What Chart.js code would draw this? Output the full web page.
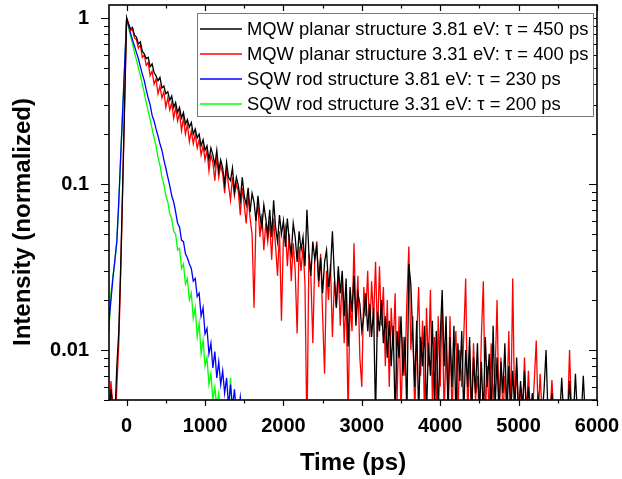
<!DOCTYPE html>
<html>
<head>
<meta charset="utf-8">
<script src="https://cdn.jsdelivr.net/npm/chart.js@4.4.1/dist/chart.umd.min.js"></script>
<style>
  body { margin: 0; background: #fff; }
  #wrap { width: 622px; height: 479px; }
</style>
</head>
<body>
<div id="wrap"><canvas id="myChart"></canvas></div>
<script>
  "use strict";

  // sampling grid of the traces: t = T0 + i * DT (ps)
  const T0 = -225;
  const DT = 25;

  const seriesLabels = [
    "MQW planar structure 3.81 eV: \u03c4 = 450 ps",
    "MQW planar structure 3.31 eV: \u03c4 = 400 ps",
    "SQW rod structure 3.81 eV: \u03c4 = 230 ps",
    "SQW rod structure 3.31 eV: \u03c4 = 200 ps",
  ];
  const seriesColors = ["#000000", "#ff0000", "#0000ff", "#00ff00"];

  // MQW planar 3.81 eV
  const mqw381 = [
    0.004, 0.0058, 0.0045, 0.004, 0.008, 0.013, 0.033, 0.10, 0.32, 1.0, // -225..0
    0.92, 0.86, 0.88, 0.79, 0.77, 0.70, 0.72, 0.63, // 25-200
    0.61, 0.57, 0.58, 0.51, 0.53, 0.47, 0.45, 0.42,
    0.44, 0.38, 0.39, 0.35, 0.36, 0.32, 0.34, 0.29,
    0.31, 0.27, 0.29, 0.25, 0.27, 0.23, 0.245, 0.22,
    0.235, 0.20, 0.215, 0.19, 0.20, 0.17, 0.185, 0.16, // 825-1000
    0.17, 0.14, 0.165, 0.15, 0.13, 0.16, 0.12, 0.14,
    0.125, 0.10, 0.135, 0.11, 0.105, 0.125, 0.09, 0.11,
    0.098, 0.08, 0.11, 0.085, 0.075, 0.095, 0.068, 0.088,
    0.078, 0.06, 0.085, 0.065, 0.055, 0.075, 0.062, 0.05,
    0.07, 0.048, 0.08, 0.055, 0.045, 0.065, 0.05, 0.06, // 1825-2000
    0.042, 0.062, 0.045, 0.038, 0.058, 0.048, 0.034, 0.052,
    0.04, 0.048, 0.032, 0.07, 0.038, 0.028, 0.045, 0.035,
    0.042, 0.026, 0.036, 0.022, 0.034, 0.04, 0.024, 0.03,
    0.052, 0.028, 0.018, 0.032, 0.022, 0.03, 0.016, 0.027,
    0.0105, 0.024, 0.017, 0.028, 0.014, 0.022, 0.019, 0.013, // 2825-3000
    0.016, 0.022, 0.013, 0.019, 0.012, 0.018, 0.004, 0.017,
    0.013, 0.02, 0.011, 0.016, 0.009, 0.015, 0.008, 0.014,
    0.004, 0.013, 0.009, 0.016, 0.007, 0.012, 0.004, 0.033,
    0.025, 0.012, 0.006, 0.015, 0.004, 0.012, 0.008, 0.014,
    0.004, 0.011, 0.007, 0.015, 0.005, 0.013, 0.004, 0.012, // 3825-4000
    0.023, 0.008, 0.016, 0.004, 0.012, 0.006, 0.014, 0.004,
    0.011, 0.0065, 0.013, 0.004, 0.010, 0.006, 0.012, 0.004,
    0.009, 0.0055, 0.011, 0.004, 0.0085, 0.004, 0.012, 0.006,
    0.0095, 0.004, 0.014, 0.0045, 0.009, 0.004, 0.0085, 0.0055,
    0.011, 0.004, 0.008, 0.004, 0.0075, 0.0045, 0.009, 0.004, // 4825-5000
    0.0065, 0.0045, 0.0075, 0.004, 0.006, 0.004, 0.0055, 0.004,
    0.004, 0.0052, 0.004, 0.004, 0.0058, 0.01, 0.004, 0.004,
    0.0055, 0.004, 0.004, 0.004, 0.004, 0.0068, 0.004, 0.004,
    0.004, 0.0065, 0.004, 0.004, 0.0072, 0.004, 0.004, 0.004,
    0.007, 0.004,
  ];

  // MQW planar 3.31 eV
  const mqw331 = [
    0.004, 0.0065, 0.0045, 0.003, 0.006, 0.011, 0.03, 0.095, 0.31, 1.0,
    0.93, 0.84, 0.86, 0.76, 0.74, 0.66, 0.69, 0.58,
    0.60, 0.52, 0.54, 0.45, 0.48, 0.40, 0.43, 0.35,
    0.39, 0.33, 0.36, 0.29, 0.33, 0.28, 0.31, 0.25,
    0.29, 0.24, 0.27, 0.21, 0.25, 0.20, 0.23, 0.18,
    0.21, 0.175, 0.20, 0.165, 0.185, 0.15, 0.17, 0.14, // 825-1000
    0.16, 0.12, 0.15, 0.135, 0.105, 0.145, 0.11, 0.13,
    0.115, 0.088, 0.125, 0.098, 0.08, 0.11, 0.085, 0.1,
    0.09, 0.065, 0.095, 0.075, 0.058, 0.085, 0.062, 0.05,
    0.018, 0.062, 0.075, 0.048, 0.066, 0.04, 0.058, 0.045,
    0.06, 0.035, 0.062, 0.042, 0.028, 0.052, 0.015, 0.048, // 1825-2000
    0.055, 0.032, 0.05, 0.026, 0.044, 0.03, 0.0126, 0.042,
    0.03, 0.042, 0.025, 0.003, 0.038, 0.028, 0.011, 0.035,
    0.045, 0.024, 0.038, 0.016, 0.0072, 0.03, 0.02, 0.033,
    0.012, 0.026, 0.018, 0.03, 0.014, 0.028, 0.011, 0.022,
    0.004, 0.02, 0.013, 0.044, 0.015, 0.028, 0.009, 0.006, // 2825-3000
    0.024, 0.016, 0.03, 0.012, 0.026, 0.015, 0.034, 0.012,
    0.032, 0.014, 0.024, 0.008, 0.02, 0.006, 0.018, 0.01,
    0.022, 0.005, 0.016, 0.004, 0.012, 0.007, 0.02, 0.042,
    0.01, 0.016, 0.004, 0.012, 0.024, 0.007, 0.015, 0.004,
    0.018, 0.008, 0.023, 0.005, 0.012, 0.004, 0.016, 0.006, // 3825-4000
    0.02, 0.004, 0.011, 0.005, 0.016, 0.004, 0.009, 0.013,
    0.004, 0.01, 0.006, 0.012, 0.027, 0.004, 0.009, 0.004,
    0.011, 0.005, 0.007, 0.004, 0.012, 0.026, 0.004, 0.008,
    0.004, 0.011, 0.005, 0.007, 0.02, 0.004, 0.009, 0.004,
    0.007, 0.0045, 0.013, 0.004, 0.027, 0.004, 0.008, 0.004, // 4825-5000
    0.006, 0.004, 0.009, 0.004, 0.0075, 0.004, 0.004, 0.0065,
    0.0114, 0.004, 0.0072, 0.004, 0.004, 0.004, 0.004, 0.004,
    0.0066, 0.004, 0.004, 0.004, 0.004, 0.004, 0.004, 0.004,
    0.004, 0.010, 0.004,
  ];

  // SQW rod 3.81 eV
  const sqw381 = [
    0.015, 0.02, 0.027, 0.035, 0.045, 0.08, 0.15, 0.28, 0.53, 1.0,
    0.90, 0.81, 0.74, 0.68, 0.62, 0.57, 0.51, 0.46,
    0.42, 0.37, 0.33, 0.30, 0.26, 0.24, 0.215, 0.195,
    0.175, 0.16, 0.14, 0.125, 0.11, 0.098, 0.085, 0.078,
    0.068, 0.058, 0.055, 0.046, 0.045, 0.038, 0.036, 0.033,
    0.031, 0.026, 0.027, 0.021, 0.022, 0.016, 0.018, 0.0125, // 825-1000
    0.0135, 0.0095, 0.011, 0.0078, 0.0098, 0.0068, 0.0085, 0.0062,
    0.0075, 0.0055, 0.0068, 0.0046, 0.0062, 0.0045, 0.0058, 0.0042,
    0.004, 0.0052, 0.004,
  ];

  // SQW rod 3.31 eV
  const sqw331 = [
    0.013, 0.022, 0.028, 0.034, 0.046, 0.075, 0.15, 0.28, 0.53, 1.0,
    0.88, 0.78, 0.70, 0.62, 0.56, 0.50, 0.45, 0.40,
    0.355, 0.31, 0.275, 0.245, 0.215, 0.19, 0.17, 0.145,
    0.13, 0.11, 0.10, 0.085, 0.078, 0.066, 0.062, 0.052,
    0.05, 0.04, 0.041, 0.031, 0.033, 0.025, 0.027, 0.02,
    0.022, 0.0155, 0.018, 0.012, 0.0145, 0.0095, 0.0115, 0.008, // 825-1000
    0.009, 0.0062, 0.0072, 0.005, 0.006, 0.0045, 0.0055, 0.004,
    0.0045, 0.004, 0.004, 0.004, 0.0068, 0.004,
  ];

  const xTickValues = [0, 500, 1000, 1500, 2000, 2500, 3000, 3500, 4000, 4500, 5000, 5500, 6000];
  const yMajor = [0.01, 0.1, 1];
  const xMin = -225, xMax = 6000;
  const yMin = 0.005, yMax = 1.2;

  const allSeries = [mqw381, mqw331, sqw381, sqw331];

  // minor log ticks: 2..9 times each decade
  const yTickValues = [];
  [0.001, 0.01, 0.1, 1].forEach(function (d) {
    for (let m = 1; m <= 9; m++) {
      const v = Number((m * d).toPrecision(3));
      if (v >= yMin && v <= yMax) yTickValues.push(v);
    }
  });

  function toPoints(arr) {
    return arr.map(function (v, i) {
      return { x: T0 + i * DT, y: v };
    });
  }

  const frameAndLegend = {
    id: "frameAndLegend",
    afterDatasetsDraw(chart) {
      const ctx = chart.ctx;
      const a = chart.chartArea;
      const xs = chart.scales.x;
      const ys = chart.scales.y;
      ctx.save();
      ctx.strokeStyle = "#000";
      ctx.lineWidth = 1.6;
      ctx.strokeRect(a.left, a.top, a.right - a.left, a.bottom - a.top);

      // ticks: outward on bottom/left, inward on top/right
      ctx.lineWidth = 1.2;
      ctx.beginPath();
      xs.ticks.forEach(function (t) {
        const px = Math.round(xs.getPixelForValue(t.value)) + 0.5;
        const len = t.value % 1000 === 0 ? 6 : 3.5;
        ctx.moveTo(px, a.bottom);
        ctx.lineTo(px, a.bottom + len);
        ctx.moveTo(px, a.top);
        ctx.lineTo(px, a.top + len);
      });
      ys.ticks.forEach(function (t) {
        const py = Math.round(ys.getPixelForValue(t.value)) + 0.5;
        const len = yMajor.includes(t.value) ? 8 : 5;
        ctx.moveTo(a.left, py);
        ctx.lineTo(a.left - len, py);
        ctx.moveTo(a.right, py);
        ctx.lineTo(a.right - len, py);
      });
      ctx.stroke();

      // legend box
      const lx = a.left + 88, ly = a.top + 8;
      const lw = 396, lh = 103;
      ctx.fillStyle = "#fff";
      ctx.fillRect(lx, ly, lw, lh);
      ctx.strokeStyle = "#777";
      ctx.lineWidth = 1;
      ctx.strokeRect(lx + 0.5, ly + 0.5, lw, lh);
      ctx.font = "18.4px 'Liberation Sans', Arial, sans-serif";
      ctx.textBaseline = "middle";
      ctx.textAlign = "left";
      chart.data.datasets.forEach(function (ds, i) {
        const ry = ly + 16 + i * 25;
        ctx.strokeStyle = ds.borderColor;
        ctx.lineWidth = 1.4;
        ctx.beginPath();
        ctx.moveTo(lx + 3, ry);
        ctx.lineTo(lx + 45, ry);
        ctx.stroke();
        ctx.fillStyle = "#000";
        ctx.fillText(ds.label, lx + 50, ry + 1);
      });

      // y axis title
      ctx.translate(23, 222);
      ctx.rotate(-Math.PI / 2);
      ctx.font = "bold 24px 'Liberation Sans', Arial, sans-serif";
      ctx.textAlign = "center";
      ctx.fillStyle = "#000";
      ctx.fillText("Intensity (normalized)", 0, 0);
      ctx.restore();
    },
  };

  function noEdgePadding(scale) {
    scale.paddingLeft = 0;
    scale.paddingRight = 0;
    scale.paddingTop = 0;
    scale.paddingBottom = 0;
  }

  const ctx = document.getElementById("myChart").getContext("2d");
  const myChart = new Chart(ctx, {
    type: "line",
    data: {
      datasets: allSeries.map(function (arr, i) {
        return {
          label: seriesLabels[i],
          data: toPoints(arr),
          borderColor: seriesColors[i],
          backgroundColor: seriesColors[i],
          borderWidth: 1.3,
          pointRadius: 0,
          tension: 0,
          fill: false,
          clip: 0,
        };
      }),
    },
    options: {
      responsive: true,
      maintainAspectRatio: false,
      animation: false,
      layout: { padding: { top: 5, right: 25, left: 0, bottom: 0 } },
      plugins: {
        legend: { display: false },
        tooltip: { enabled: false },
      },
      scales: {
        x: {
          type: "linear",
          position: "bottom",
          min: xMin,
          max: xMax,
          grid: { display: false },
          border: { display: false },
          afterBuildTicks: function (scale) {
            scale.ticks = xTickValues.map(function (v) { return { value: v }; });
          },
          afterFit: function (scale) {
            scale.height = 79;
            noEdgePadding(scale);
          },
          ticks: {
            autoSkip: false,
            maxRotation: 0,
            padding: 6,
            color: "#000",
            font: { family: "'Liberation Sans', Arial, sans-serif", size: 20, weight: "bold" },
            callback: function (v) { return v % 1000 === 0 ? String(v) : ""; },
          },
          title: {
            display: true,
            text: "Time (ps)",
            color: "#000",
            padding: { top: 0, bottom: 1 },
            font: { family: "'Liberation Sans', Arial, sans-serif", size: 24, weight: "bold" },
          },
        },
        y: {
          type: "logarithmic",
          position: "left",
          min: yMin,
          max: yMax,
          grid: { display: false },
          border: { display: false },
          afterBuildTicks: function (scale) {
            scale.ticks = yTickValues.map(function (v) { return { value: v }; });
          },
          afterFit: function (scale) {
            scale.width = 109;
            noEdgePadding(scale);
          },
          ticks: {
            autoSkip: false,
            padding: 12,
            color: "#000",
            font: { family: "'Liberation Sans', Arial, sans-serif", size: 20, weight: "bold" },
            callback: function (v) { return yMajor.includes(v) ? String(v) : ""; },
          },
        },
      },
    },
    plugins: [frameAndLegend],
  });
</script>
</body>
</html>
